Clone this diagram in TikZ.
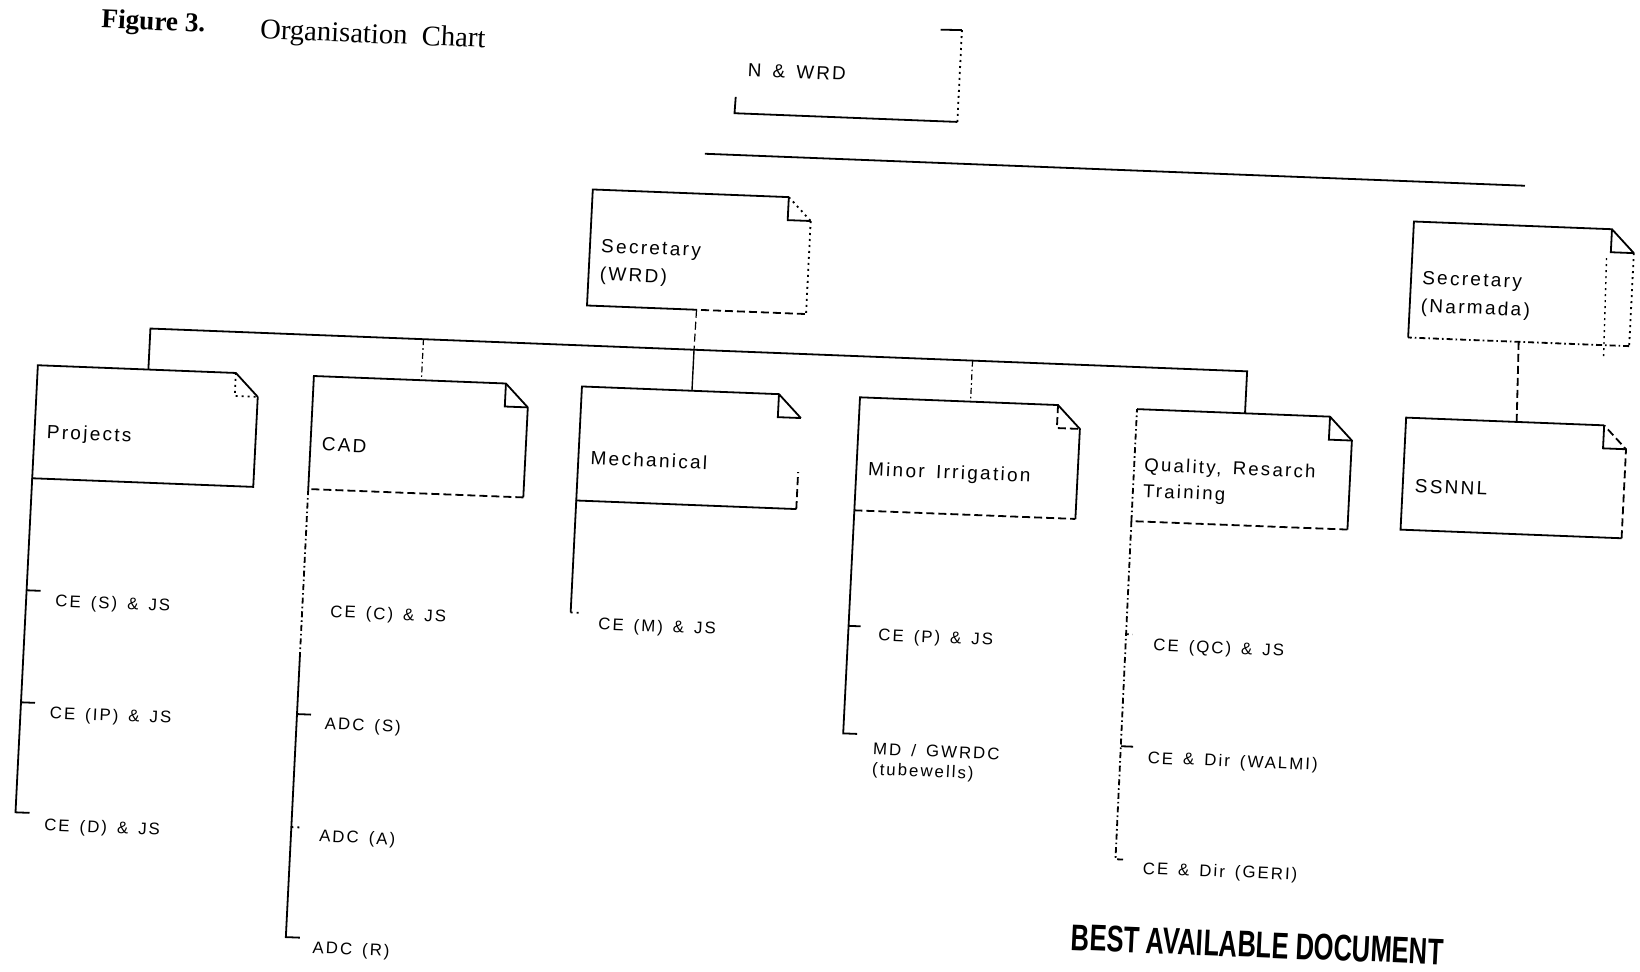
\documentclass[tikz,border=0pt]{standalone}
\usepackage{fontspec}
\usepackage{graphicx}
\setmainfont{Liberation Serif}
\newfontfamily\chartfont[LetterSpace=12,WordSpace=1.5]{Liberation Sans}
\newfontfamily\stampfont{Liberation Sans}
\usetikzlibrary{calc}
\newcommand\mkbox[5]{%
  \node[inner sep=0pt,outer sep=0pt,minimum width={(#4-#2)*0.5pt},minimum height={(#5-#3)*0.5pt}] (#1) at ({(#2+#4)/2},{(#3+#5)/2}) {};
  \coordinate (#1-nw) at (#2,#3);
  \coordinate (#1-fs) at ({#4-23},#3);
  \coordinate (#1-fe) at (#4,{#3+23});
  \coordinate (#1-fc) at ({#4-23},{#3+23});
  \coordinate (#1-se) at (#4,#5);
  \coordinate (#1-sw) at (#2,#5);
}
\newcommand\mktick[4]{%
  \coordinate (#1-a) at (#2,#3);
  \coordinate (#1-b) at ({#2+#4},#3);
}
\begin{document}
\begin{tikzpicture}[x=0.5pt,y=-0.5pt,
  sol/.style={line width=0.9pt,draw=black},
  dsh/.style={line width=0.9pt,draw=black,dash pattern=on 4pt off 2pt},
  dts/.style={line width=0.9pt,draw=black,dash pattern=on 1pt off 2pt},
  ddt/.style={line width=0.9pt,draw=black,dash pattern=on 3pt off 1.5pt on 0.8pt off 1.5pt},
  lbl/.style={anchor=west,inner sep=0pt,align=left,font=\chartfont\fontsize{9.5}{14}\selectfont},
  sub/.style={anchor=west,inner sep=0pt,align=left,font=\chartfont\fontsize{8.4}{10}\selectfont}]
\useasboundingbox[fill=white] (0,0) rectangle (1640,972);
\begin{scope}[cm={1,-0.039,0.05,1,(0,0)},transform shape]
% title
\node[anchor=base west,inner sep=0pt,font=\bfseries\fontsize{13.6}{15}\selectfont] (fig) at (102,24) {Figure 3.};
\node[anchor=base west,inner sep=0pt,font=\fontsize{14.3}{16}\selectfont] (title) at (261,28.6) {Organisation\ \ Chart};
% N & WRD
\node[inner sep=0pt,minimum width=111pt,minimum height=45.5pt] (nwrd) at (850,38.5) {};
\coordinate (nw-l) at (739,68);
\coordinate (nw-tick) at (940,-7);
\node[lbl,font=\chartfont\fontsize{9.4}{10}\selectfont] (nwrd-t) at (749.5,41) {N \& WRD};
\draw[sol] (nw-l) -- (nwrd.south west) -- (nwrd.south east);
\draw[dts] (nwrd.south east) -- (nwrd.north east);
\draw[sol] (nwrd.north east) -- (nw-tick);
% long top line
\coordinate (tl-a) at (711,126);
\coordinate (tl-b) at (1531,126);
\draw[sol] (tl-a) -- (tl-b);
% Secretary (WRD)
\mkbox{sw}{601}{166}{820}{282}
\coordinate (sw-bm) at (703,282);
\draw[sol] (sw-bm) -- (sw-sw) -- (sw-nw) -- (sw-fs);
\draw[dsh] (sw-bm) -- (sw-se);
\draw[dts] (sw-fe) -- (sw-se);
\draw[dts] (sw-fs) -- (sw-fe);
\draw[sol] (sw-fs) -- (sw-fc) -- (sw-fe);
\node[lbl] (sw-t) at (612,238) {Secretary\\(WRD)};
% Secretary (Narmada)
\mkbox{nm}{1422}{166}{1643}{282}
\draw[sol] (nm-sw) -- (nm-nw) -- (nm-fs) -- (nm-fe);
\draw[dts] (nm-fe) -- (nm-se);
\draw[ddt] (nm-se) -- (nm-sw);
\draw[sol] (nm-fs) -- (nm-fc) -- (nm-fe);
\coordinate (nm-x1) at (1616,195);
\coordinate (nm-x2) at (1618,295);
\draw[dts,line width=0.7pt] (nm-x1) -- (nm-x2);
\node[lbl] (nm-t) at (1433,237.5) {Secretary\\(Narmada)};
% SSNNL
\mkbox{ss}{1424}{362}{1645}{474}
\draw[sol] (ss-fs) -- (ss-nw) -- (ss-sw) -- (ss-se);
\draw[dsh] (ss-se) -- (ss-fe) -- (ss-fs);
\draw[sol] (ss-fs) -- (ss-fc) -- (ss-fe);
\node[lbl] (ss-t) at (1436,430) {SSNNL};
\draw[dsh] (nm.south) -- (ss.north);
% row of divisions
\mkbox{pr}{56}{363}{277}{476}
\mkbox{cad}{332}{363}{547}{476}
\mkbox{me}{600}{363}{820}{477}
\mkbox{mi}{878}{363}{1099}{476}
\mkbox{qu}{1155}{364}{1371}{476}
% branch
\coordinate (br-l) at (166.5,322);
\coordinate (br-r) at (1263,322);
\coordinate (j-cad) at (439.5,322);
\coordinate (j-me) at (710,322);
\coordinate (j-mi) at (988.5,322);
\draw[sol] (pr.north) -- (br-l) -- (br-r) -- (qu.north);
\draw[dsh,line width=0.6pt] (sw.south) -- (j-me);
\draw[ddt,line width=0.6pt] (j-cad) -- (cad.north);
\draw[sol,line width=0.7pt] (j-me) -- (me.north);
\draw[ddt,line width=0.6pt] (j-mi) -- (mi.north);
% Projects
\draw[sol] (pr-fe) -- (pr-se) -- (pr-sw) -- (pr-nw) -- (pr-fs) -- (pr-fe);
\draw[dts] (pr-fs) -- (pr-fc) -- (pr-fe);
\node[lbl] (pr-t) at (68,431) {Projects};
% CAD
\draw[sol] (cad-sw) -- (cad-nw) -- (cad-fs) -- (cad-fe) -- (cad-se);
\draw[dsh] (cad-se) -- (cad-sw);
\draw[sol] (cad-fs) -- (cad-fc) -- (cad-fe);
\node[lbl] (cad-t) at (343,431) {CAD};
% Mechanical
\coordinate (me-rm) at (820,440);
\draw[sol] (me-fe) -- (me-fs) -- (me-nw) -- (me-sw) -- (me-se);
\draw[dsh] (me-se) -- (me-rm);
\draw[sol] (me-fs) -- (me-fc) -- (me-fe);
\node[lbl] (me-t) at (612,434) {Mechanical};
% Minor Irrigation
\draw[sol] (mi-se) -- (mi-fe) -- (mi-fs) -- (mi-nw) -- (mi-sw);
\draw[dsh] (mi-sw) -- (mi-se);
\draw[dsh] (mi-fs) -- (mi-fc) -- (mi-fe);
\node[lbl] (mi-t) at (889.5,436) {Minor Irrigation};
% Quality
\draw[sol] (qu-nw) -- (qu-fs) -- (qu-fe) -- (qu-se);
\draw[dsh] (qu-se) -- (qu-sw);
\draw[ddt] (qu-sw) -- (qu-nw);
\draw[sol] (qu-fs) -- (qu-fc) -- (qu-fe);
\node[lbl,font=\chartfont\fontsize{9.3}{13}\selectfont] (qu-t) at (1165,434) {Quality, Resarch\\Training};
% Projects sub-items
\mktick{pt1}{56}{588}{14}
\mktick{pt2}{56}{700}{14}
\mktick{pt3}{56}{810}{14}
\draw[sol] (pr-sw) -- (pt3-a) -- (pt3-b);
\draw[sol] (pt1-a) -- (pt1-b);
\draw[sol] (pt2-a) -- (pt2-b);
\node[sub] (ps1) at (85,599) {CE (S) \& JS};
\node[sub] (ps2) at (85,711) {CE (IP) \& JS};
\node[sub] (ps3) at (85,823) {CE (D) \& JS};
% CAD sub-items
\coordinate (cad-m) at (332,640);
\mktick{ct2}{332}{701}{14}
\mktick{ct3}{332}{814}{8}
\mktick{ct4}{332}{924}{14}
\draw[ddt] (cad-sw) -- (cad-m);
\draw[sol] (cad-m) -- (ct4-a) -- (ct4-b);
\draw[sol] (ct2-a) -- (ct2-b);
\draw[dts] (ct3-a) -- (ct3-b);
\node[sub] (cs1) at (360,599) {CE (C) \& JS};
\node[sub] (cs2) at (360,711) {ADC (S)};
\node[sub] (cs3) at (360,823.5) {ADC (A)};
\node[sub] (cs4) at (359,935) {ADC (R)};
% Mechanical sub-item
\mktick{mt1}{600}{589}{8}
\draw[sol] (me-sw) -- (mt1-a);
\draw[dts] (mt1-a) -- (mt1-b);
\node[sub] (ms1) at (628,601) {CE (M) \& JS};
% Minor irrigation sub-items
\mktick{it1}{878}{591.5}{12}
\mktick{it2}{878}{699}{14}
\draw[sol] (mi-sw) -- (it2-a) -- (it2-b);
\draw[sol] (it1-a) -- (it1-b);
\node[sub] (is1) at (908,601) {CE (P) \& JS};
\node[sub] (is2) at (908.5,725) {MD / GWRDC\\(tubewells)};
% Quality sub-items
\mktick{qt1}{1156}{589}{6}
\mktick{qt2}{1156}{701}{12}
\mktick{qt3}{1156}{814}{10}
\draw[ddt] (qu-sw) -- (qt3-a) -- (qt3-b);
\draw[dts] (qt1-a) -- (qt1-b);
\draw[sol] (qt2-a) -- (qt2-b);
\node[sub] (qs1) at (1183,600.5) {CE (QC) \& JS};
\node[sub] (qs2) at (1183,713) {CE \& Dir (WALMI)};
\node[sub] (qs3) at (1183.6,823.5) {CE \& Dir (GERI)};
% stamp
\node[inner sep=0pt,font=\stampfont\bfseries\fontsize{18.5}{20}\selectfont] (stamp) at (1302,894) {\scalebox{0.69}[1]{BEST AVAILABLE DOCUMENT}};
\end{scope}
\end{tikzpicture}
\end{document}
